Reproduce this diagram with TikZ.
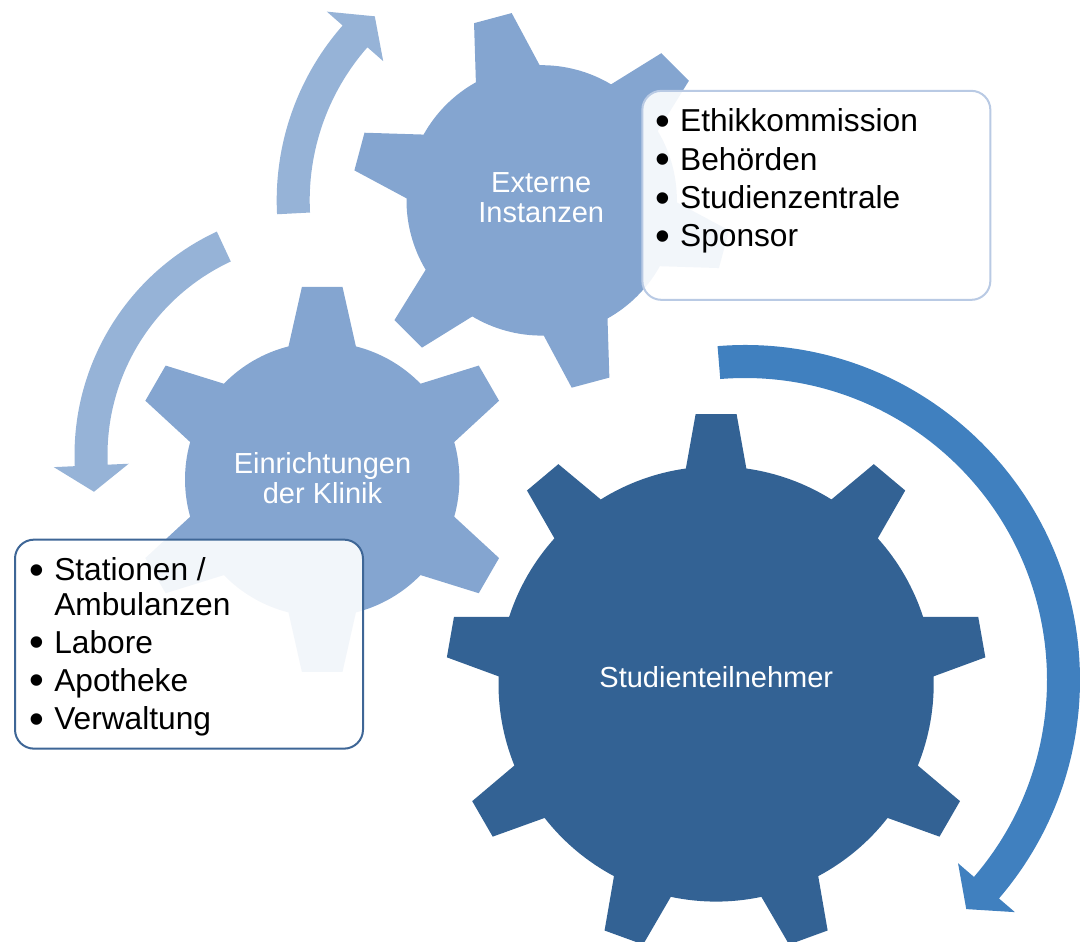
\documentclass[tikz,border=0pt]{standalone}
\usepackage{fontspec}
\usepackage{graphicx}
\setmainfont{Liberation Sans}
\usetikzlibrary{positioning}
\definecolor{gearlight}{RGB}{132,165,208}
\definecolor{geardark}{RGB}{51,98,148}
\definecolor{arrowlight}{RGB}{150,179,215}
\definecolor{arrowdark}{RGB}{64,128,191}
\definecolor{rimlight}{RGB}{185,202,228}
\definecolor{rimdark}{RGB}{62,102,150}

% gear: centre, teeth, first tooth angle, outer radius, body radius, tip half width, base half width, colour
\newcommand{\drawgear}[8]{%
  \pgfmathsetmacro\gstep{360/#2}%
  \pgfmathsetmacro\gbase{asin(#7/#5)}%
  \pgfmathsetmacro\gtip{atan(#6/#4)}%
  \pgfmathsetmacro\gout{#4/cos(\gtip)}%
  \fill[#8,shift={#1}] ({#3-\gbase}:#5)
    \foreach \k in {1,...,#2} {
      -- ({#3+(\k-1)*\gstep-\gtip}:\gout) -- ({#3+(\k-1)*\gstep+\gtip}:\gout)
      -- ({#3+(\k-1)*\gstep+\gbase}:#5)
      arc[start angle={#3+(\k-1)*\gstep+\gbase},end angle={#3+\k*\gstep-\gbase},radius=#5]
    } -- cycle;
}
% turning arrow: centre, inner radius, outer radius, tail angle, shaft end angle, tip angle, colour
\newcommand{\drawturn}[7]{%
  \pgfmathsetmacro\amid{(#2+#3)/2}%
  \pgfmathsetmacro\abarbout{\amid+37.5}%
  \pgfmathsetmacro\abarbin{\amid-37.5}%
  \fill[#7,shift={#1}] (#4:#3) arc[start angle=#4,end angle=#5,radius=#3]
    -- (#5:\abarbout) -- (#6:\amid) -- (#5:\abarbin) -- (#5:#2)
    arc[start angle=#5,end angle=#4,radius=#2] -- cycle;
}
% list bullet, a bit larger than the font's own
\newcommand{\listdot}{\raisebox{-3.6pt}{\scalebox{1.33}{\textbullet}}\hspace{10.3pt}}

\begin{document}
\begin{tikzpicture}[x=1pt,y=1pt,
    gearlabel/.style={text=white,align=center,inner sep=0pt,font=\fontsize{29}{30.5}\selectfont},
    listbox/.style={rounded corners=19pt,line width=2pt,fill=white,fill opacity=0.9,
      minimum width=348pt,minimum height=209pt,inner sep=0pt},
    listtext/.style={align=left,inner sep=0pt,anchor=north west,font=\fontsize{31.7}{34.3}\selectfont}]
  \useasboundingbox (0,0) rectangle (1084,942);

  % gears
  \drawgear{(541.7,741.6)}{6}{45}{188.7}{135.2}{19.5}{33}{gearlight}
  \drawgear{(322.2,462.6)}{6}{30}{192.5}{137.2}{20.3}{33.7}{gearlight}
  \drawgear{(716.1,258)}{9}{90}{269.8}{217.6}{20.5}{30.25}{geardark}

  % turning arrows
  \drawturn{(541.7,741.6)}{232}{265}{183}{138.7}{132.2}{arrowlight}
  \drawturn{(321,487)}{213.5}{246.5}{115}{182.6}{189.2}{arrowlight}
  \drawturn{(745,262)}{302}{335}{94.7}{-40.7}{-46}{arrowdark}

  \node[gearlabel] (extern) at (541.2,744.1) {Externe\\Instanzen};
  \node[gearlabel] (klinik) at (322.5,463.8) {Einrichtungen\\der Klinik};
  \node[gearlabel] (teilnehmer) at (716.3,264.4) {Studienteilnehmer};

  % lists
  \node[listbox,draw=rimlight] (instanzen) at (816.35,746.65) {};
  \node[listbox,draw=rimdark] (bereiche) at (189,297.85) {};
  \node[listtext] (instanzliste) at ([xshift=13.5pt,yshift=-17.7pt]instanzen.north west)
    {\strut\listdot Ethikkommission\\[4.1pt]
     \listdot Behörden\\[4.1pt]
     \listdot Studienzentrale\\[4.1pt]
     \listdot Sponsor};
  \node[listtext] (bereichsliste) at ([xshift=15pt,yshift=-18pt]bereiche.north west)
    {\strut\listdot Stationen /\\
     \hphantom{\listdot}Ambulanzen\\[3.8pt]
     \listdot Labore\\[3.8pt]
     \listdot Apotheke\\[3.8pt]
     \listdot Verwaltung};
\end{tikzpicture}
\end{document}
